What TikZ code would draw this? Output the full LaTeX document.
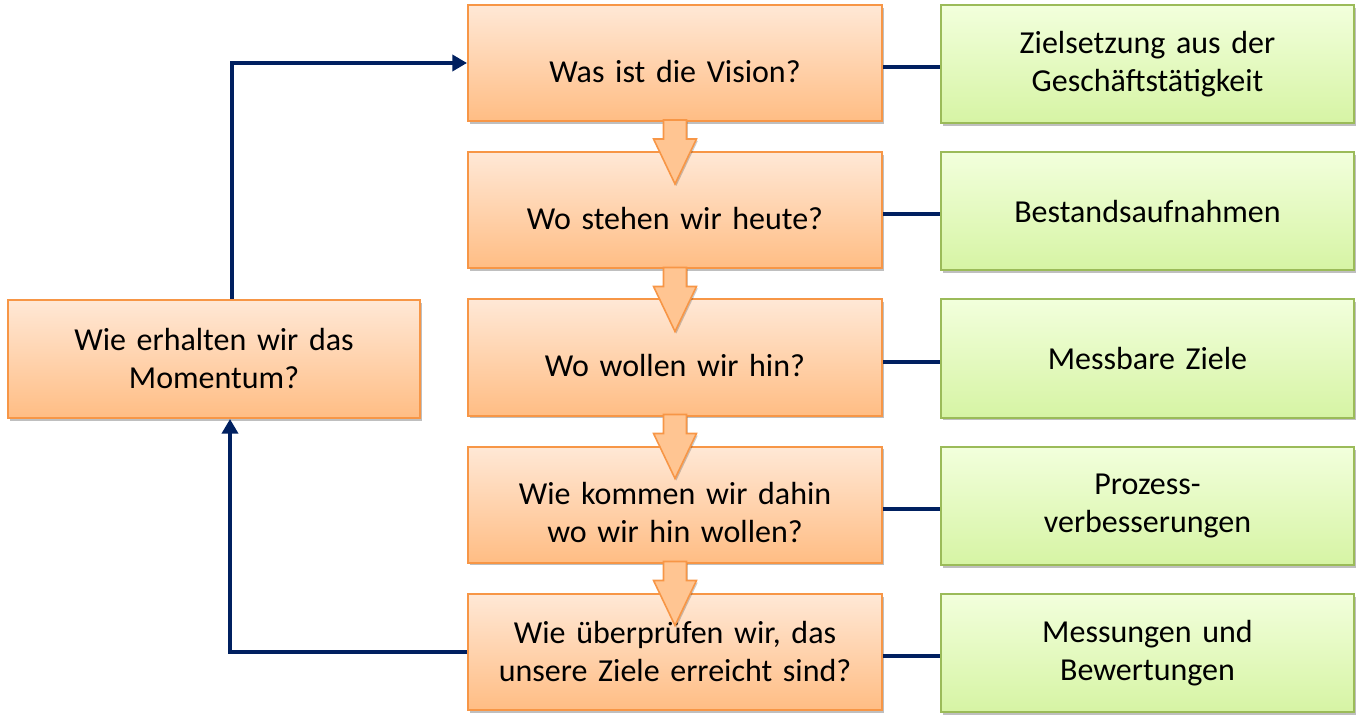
\documentclass[tikz,border=0pt]{standalone}
\usepackage{fontspec}
\setmainfont{Carlito}
\usetikzlibrary{arrows.meta,shadows,calc}
\definecolor{obord}{HTML}{F79646}
\definecolor{otop}{HTML}{FFE8D6}
\definecolor{obot}{HTML}{FFBD84}
\definecolor{gbord}{HTML}{9BBB59}
\definecolor{gtop}{HTML}{F2FFDC}
\definecolor{gbot}{HTML}{D6F4A4}
\definecolor{navy}{HTML}{002060}
\definecolor{afill}{HTML}{FFC592}
\tikzset{
  obox/.style={draw=obord, line width=1.5pt, top color=otop, bottom color=obot,
    minimum width=310.5pt, minimum height=87pt, align=center, text width=290pt,
    font=\fontsize{24}{28.5}\selectfont,
    drop shadow={shadow xshift=1.5pt, shadow yshift=-2pt, opacity=0.25, fill=black}},
  midtext/.style={execute at begin node={\rule{0pt}{29pt}}},
  gbox/.style={draw=gbord, line width=1.5pt, top color=gtop, bottom color=gbot,
    minimum width=310pt, minimum height=88.5pt, align=center, text width=290pt,
    font=\fontsize{24}{28.5}\selectfont,
    drop shadow={shadow xshift=1.5pt, shadow yshift=-2pt, opacity=0.25, fill=black}},
  conn/.style={draw=navy, line width=3pt},
  loopline/.style={draw=navy, line width=2.8pt, line join=miter, -{Triangle[length=11pt,width=12pt]}},
  blockarrow/.style={draw=obord, line width=1.2pt, fill=afill, line join=miter,
    drop shadow={shadow xshift=1pt, shadow yshift=-1.5pt, opacity=0.2, fill=black}},
}
\begin{document}
\begin{tikzpicture}[x=0.75pt, y=-0.75pt]
\useasboundingbox (0,0) rectangle (1362,723);
% orange column
\node[obox, midtext] (o1) at (675,63) {Was ist die Vision?};
\node[obox, midtext] (o2) at (675,210.5) {Wo stehen wir heute?};
\node[obox, midtext] (o3) at (675,357.5) {Wo wollen wir hin?};
\node[obox, midtext] (o4) at (675,504.5) {Wie kommen wir dahin\\wo wir hin wollen?};
\node[obox] (o5) at (675,652) {Wie überprüfen wir, das\\unsere Ziele erreicht sind?};
% green column
\node[gbox] (g1) at (1147.5,64.5) {Zielsetzung aus der\\Geschäftstätigkeit};
\node[gbox] (g2) at (1147.5,211.5) {Bestandsaufnahmen};
\node[gbox] (g3) at (1147.5,358.5) {Messbare Ziele};
\node[gbox] (g4) at (1147.5,506) {Prozess-\\verbesserungen};
\node[gbox] (g5) at (1147.5,653) {Messungen und\\Bewertungen};
% left box
\node[obox, minimum width=309pt, minimum height=88.5pt] (l) at (214,359) {Wie erhalten wir das\\Momentum?};
% block arrows
\foreach \a in {o1,o2,o3,o4}{
  \draw[blockarrow] let \p1=(\a.south) in
    (\x1-8.625pt,\y1+1.5pt) -- (\x1-8.625pt,\y1-12.75pt) -- (\x1-16.1pt,\y1-12.75pt)
    -- (\x1,\y1-46.5pt) -- (\x1+16.1pt,\y1-12.75pt) -- (\x1+8.625pt,\y1-12.75pt)
    -- (\x1+8.625pt,\y1+1.5pt) -- cycle;
}
% connectors to green boxes
\foreach \i in {1,...,5}{
  \draw[conn] ([yshift=-3pt]o\i.east) -- ([yshift=-3pt]o\i.east -| g\i.west);
}
% loop
\coordinate (lt) at ([xshift=13.5pt]l.north);
\coordinate (lb) at ([xshift=12pt]l.south);
\draw[loopline] (lt) -- (lt |- o1.west) -- (o1.west);
\draw[loopline] (o5.west) -- (lb |- o5.west) -- (lb);
\end{tikzpicture}
\end{document}
